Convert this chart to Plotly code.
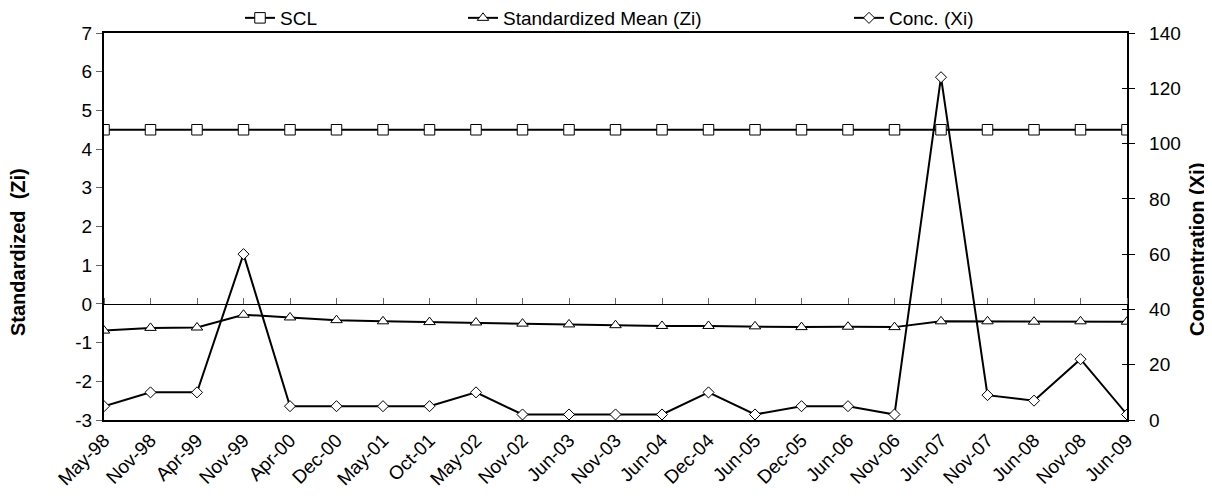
import plotly.graph_objects as go

categories = ["May-98", "Nov-98", "Apr-99", "Nov-99", "Apr-00", "Dec-00", "May-01", "Oct-01",
              "May-02", "Nov-02", "Jun-03", "Nov-03", "Jun-04", "Dec-04", "Jun-05", "Dec-05",
              "Jun-06", "Nov-06", "Jun-07", "Nov-07", "Jun-08", "Nov-08", "Jun-09"]
scl = [4.5] * 23
zi = [-0.69, -0.62, -0.61, -0.28, -0.35, -0.42, -0.45, -0.47, -0.48, -0.51, -0.53, -0.55,
      -0.57, -0.57, -0.58, -0.60, -0.59, -0.60, -0.45, -0.45, -0.46, -0.45, -0.46]
xi = [5, 10, 10, 60, 5, 5, 5, 5, 10, 2, 2, 2, 2, 10, 2, 5, 5, 2, 124, 9, 7, 22, 2]
zi_ticks = [-3, -2, -1, 0, 1, 2, 3, 4, 5, 6, 7]
zi_tick_labels = ["-3", "-2", "-1", "0", "1", "2", "3", "4", "5", "6", "7"]

FONT = "Liberation Sans, Arial, sans-serif"
OFF = 8  # page body margin
W, H = 1212 - OFF, 502 - OFF
# target plot area in screen pixels: x 104..1127, y 33..420
L, T = 104 - OFF, 33 - OFF
R = W - (1127 - OFF)
B = H - (420 - OFF)
plot_h = H - T - B
plot_w = W - L - R


def px(xs):
    return (xs - OFF - L) / plot_w


def py(ys):
    return (H - B - (ys - OFF)) / plot_h


fig = go.Figure()
mk_line = dict(color="black", width=1)
fig.add_trace(go.Scatter(x=categories, y=scl, name="SCL", mode="lines+markers",
                         line=dict(color="black", width=2),
                         marker=dict(symbol="square", size=10.5, color="white", line=mk_line),
                         legend="legend"))
fig.add_trace(go.Scatter(x=categories, y=zi, name="Standardized Mean (Zi)", mode="lines+markers",
                         line=dict(color="black", width=2),
                         marker=dict(symbol="triangle-up", size=10, color="white", line=mk_line),
                         legend="legend2"))
fig.add_trace(go.Scatter(x=categories, y=xi, name="Conc. (Xi)", mode="lines+markers",
                         yaxis="y2",
                         line=dict(color="black", width=2),
                         marker=dict(symbol="diamond", size=8.5, color="white", line=mk_line),
                         legend="legend3"))
# invisible helper traces for the zero-crossing category axis and crossing right ticks
fig.add_trace(go.Scatter(x=categories, y=zi, xaxis="x2", yaxis="y", mode="markers",
                         marker=dict(opacity=0), showlegend=False, hoverinfo="skip"))
fig.add_trace(go.Scatter(x=categories, y=xi, xaxis="x", yaxis="y3", mode="markers",
                         marker=dict(opacity=0), showlegend=False, hoverinfo="skip"))

zero_pos = (0 - (-3)) / 10.0
leg_y = py(18)

fig.update_layout(
    width=W, height=H,
    margin=dict(l=L, r=R, t=T, b=B, autoexpand=False),
    paper_bgcolor="white", plot_bgcolor="white",
    font=dict(family=FONT, size=19, color="black"),
    xaxis=dict(type="category", range=[0, 22], showgrid=False, zeroline=False,
               showline=True, linecolor="black", linewidth=1.5, mirror=True,
               ticks="", tickangle=-45, tickfont=dict(size=19), automargin=False),
    xaxis2=dict(type="category", range=[0, 22], overlaying="x", anchor="free",
                position=zero_pos, side="top", showgrid=False, zeroline=False,
                showline=True, linecolor="black", linewidth=1,
                ticks="outside", ticklen=6, tickcolor="#666", tickwidth=1,
                showticklabels=False, automargin=False),
    yaxis=dict(range=[-3, 7], tickvals=zi_ticks, ticktext=zi_tick_labels,
               showgrid=False, zeroline=False,
               showline=True, linecolor="black", linewidth=2,
               ticks="outside", ticklen=6, tickcolor="#666", tickwidth=1,
               tickfont=dict(size=19), automargin=False),
    yaxis2=dict(range=[0, 140], dtick=20, overlaying="y", side="right",
                showgrid=False, zeroline=False, showline=True, linecolor="black",
                linewidth=1.5, ticks="outside", ticklen=6, tickcolor="black",
                tickwidth=1, tickfont=dict(size=19), tickprefix="\u00a0\u00a0",
                automargin=False),
    yaxis3=dict(range=[0, 140], dtick=20, overlaying="y", side="right",
                showgrid=False, zeroline=False, showline=False,
                ticks="inside", ticklen=5, tickcolor="black", tickwidth=1,
                showticklabels=False, automargin=False),
    legend=dict(x=px(240), y=leg_y, xanchor="left", yanchor="middle",
                orientation="h", bgcolor="rgba(0,0,0,0)", font=dict(size=19)),
    legend2=dict(x=px(463), y=leg_y, xanchor="left", yanchor="middle",
                 orientation="h", bgcolor="rgba(0,0,0,0)", font=dict(size=19)),
    legend3=dict(x=px(849), y=leg_y, xanchor="left", yanchor="middle",
                 orientation="h", bgcolor="rgba(0,0,0,0)", font=dict(size=19)),
    showlegend=True,
    annotations=[
        dict(text="<b>Standardized  (Zi)</b>", textangle=-90, xref="paper", yref="paper",
             x=px(18), y=py(252), showarrow=False,
             xanchor="center", yanchor="middle", font=dict(size=20)),
        dict(text="<b>Concentration (Xi)</b>", textangle=-90, xref="paper", yref="paper",
             x=px(1197), y=py(250), showarrow=False,
             xanchor="center", yanchor="middle", font=dict(size=20)),
    ],
)

fig.write_html("out.html")
